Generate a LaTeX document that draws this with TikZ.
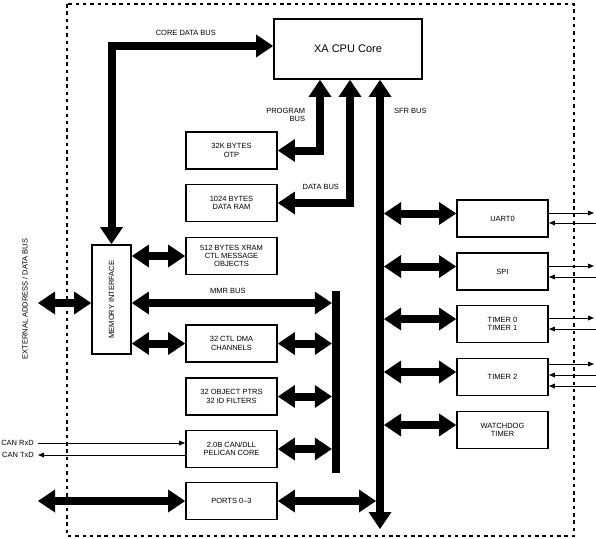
\documentclass[tikz,border=0pt]{standalone}
\usepackage{fontspec}
\setmainfont{Liberation Sans}
\usetikzlibrary{arrows.meta}

\newcommand{\lblfont}{\fontsize{7.5}{8.3}\selectfont}

\begin{document}
\begin{tikzpicture}[
    x=1pt, y=-1pt,
    block/.style={%
      draw,
      rectangle,
      line width=1.8pt,
      minimum width=91pt,
      minimum height=37pt,
      inner sep=0pt,
      align=center,
      font=\lblfont,
    },
    busTip/.tip={Triangle[length=17pt,width=23pt,line width=0pt]},
    bus/.style={line width=8pt, line join=miter, {busTip}-{busTip}},
    sig/.style={line width=0.9pt, -{Triangle[length=6pt,width=5pt,line width=0pt]}},
    lbl/.style={font=\lblfont, inner sep=1pt},
  ]
    \useasboundingbox (0,0) rectangle (596,538);
    \draw [line width=1.2pt, dash pattern=on 3.5pt off 3.8pt] (67,4) rectangle (574,536);

    \node [block, minimum width=148pt, minimum height=60pt, font=\fontsize{11}{13}\selectfont] (cpuCore) at (348,49) {XA CPU Core};
    \path (cpuCore) ++(-116.5,101.5) node [block] (otp) {32K BYTES\\OTP};
    \path (cpuCore) ++(-116.5,154) node [block] (dataRam) {1024 BYTES\\DATA RAM};
    \path (cpuCore) ++(-116.5,207) node [block] (xram) {512 BYTES XRAM\\CTL MESSAGE\\OBJECTS};
    \path (cpuCore) ++(-236.5,250.5) node [block, minimum width=39pt, minimum height=109pt] (memIf) {\rotatebox{90}{MEMORY INTERFACE}};
    \path (cpuCore) ++(-116.5,294.5) node [block] (dma) {32 CTL DMA\\CHANNELS};
    \path (cpuCore) ++(-116.5,347.5) node [block] (objPtrs) {32 OBJECT PTRS\\32 ID FILTERS};
    \path (cpuCore) ++(-116.5,400) node [block] (canCore) {2.0B CAN/DLL\\PELICAN CORE};
    \path (cpuCore) ++(-116.5,452) node [block] (ports) {PORTS 0--3};
    \path (cpuCore) ++(154.5,169.5) node [block] (uart) {UART0};
    \path (cpuCore) ++(154.5,222.5) node [block] (spi) {SPI};
    \path (cpuCore) ++(154.5,275) node [block] (timer) {TIMER 0\\TIMER 1};
    \path (cpuCore) ++(154.5,328) node [block] (timerTwo) {TIMER 2};
    \path (cpuCore) ++(154.5,381) node [block] (watchdog) {WATCHDOG\\TIMER};
    \path (cpuCore) ++(-12,333) node [fill, minimum width=8pt, minimum height=182pt, inner sep=0pt] (mmrBus) {};

    \node [lbl, rotate=90] (extLabel) at (25,299) {EXTERNAL ADDRESS / DATA BUS};
    \node [lbl, anchor=east] (canRx) at (35,443) {CAN RxD};
    \node [lbl, anchor=east] (canTx) at (35,455) {CAN TxD};

    \coordinate (sfrEnd) at (380,529);
    \coordinate (sfrRight) at (384,0);
    \coordinate (sfrLeft) at (376,0);
    \coordinate (extIO) at (38,303);
    \coordinate (portsIO) at (38,501);
    \coordinate (edgeOut) at (594,0);
    \coordinate (edgeIn) at (596,0);

    % buses to the core
    \draw [bus] (memIf.north) |- ([yshift=3pt]cpuCore.west) node [lbl, above=5pt, pos=0.73] {CORE DATA BUS};
    \draw [bus] ([xshift=-28pt]cpuCore.south) |- (otp.east) node [lbl, left=10pt, pos=0.25, align=right] {PROGRAM\\BUS};
    \draw [bus] ([xshift=2pt]cpuCore.south) |- (dataRam.east) node [lbl, anchor=south east, xshift=-6pt, yshift=8pt, pos=0.5] {DATA BUS};
    \draw [bus] ([xshift=32pt]cpuCore.south) -- (sfrEnd) node [lbl, right=9pt, pos=0.07] {SFR BUS};

    % memory interface and MMR bus
    \draw [bus] (extIO) -- (extIO -| memIf.west);
    \draw [bus] (memIf.east |- xram.west) -- (xram.west);
    \draw [bus] (extIO -| memIf.east) -- (extIO -| mmrBus.west) node [lbl, above=4pt, pos=0.48] {MMR BUS};
    \draw [bus] (memIf.east |- dma.west) -- (dma.west);
    \draw [bus] (dma.east) -- (dma.east -| mmrBus.west);
    \draw [bus] (objPtrs.east) -- (objPtrs.east -| mmrBus.west);
    \draw [bus] (canCore.east) -- (canCore.east -| mmrBus.west);
    \draw [bus] (portsIO) -- (ports.west);
    \draw [bus] (ports.east) -- (ports.east -| sfrLeft);

    % SFR peripherals
    \draw [bus] ([yshift=5pt]uart.west -| sfrRight) -- ([yshift=5pt]uart.west);
    \draw [bus] ([yshift=5pt]spi.west -| sfrRight) -- ([yshift=5pt]spi.west);
    \draw [bus] ([yshift=5pt]timer.west -| sfrRight) -- ([yshift=5pt]timer.west);
    \draw [bus] ([yshift=5pt]timerTwo.west -| sfrRight) -- ([yshift=5pt]timerTwo.west);
    \draw [bus] ([yshift=5pt]watchdog.west -| sfrRight) -- ([yshift=5pt]watchdog.west);

    % CAN pins
    \draw [sig] ([xshift=3pt]canRx.east) -- (canRx.east -| canCore.west);
    \draw [sig] (canCore.west |- canTx.east) -- ([xshift=3pt]canTx.east);

    % port pins
    \draw [sig] ([yshift=5.5pt]uart.east) -- ([yshift=5.5pt]uart.east -| edgeOut);
    \draw [sig] ([yshift=-4.5pt]uart.east -| edgeIn) -- ([yshift=-4.5pt]uart.east);
    \draw [sig] ([yshift=5.5pt]spi.east) -- ([yshift=5.5pt]spi.east -| edgeOut);
    \draw [sig] ([yshift=-5.5pt]spi.east -| edgeIn) -- ([yshift=-5.5pt]spi.east);
    \draw [sig] ([yshift=6pt]timer.east) -- ([yshift=6pt]timer.east -| edgeOut);
    \draw [sig] ([yshift=-5pt]timer.east -| edgeIn) -- ([yshift=-5pt]timer.east);
    \draw [sig] ([yshift=13pt]timerTwo.east) -- ([yshift=13pt]timerTwo.east -| edgeOut);
    \draw [sig] ([yshift=2pt]timerTwo.east -| edgeIn) -- ([yshift=2pt]timerTwo.east);
    \draw [sig] ([yshift=-9pt]timerTwo.east -| edgeIn) -- ([yshift=-9pt]timerTwo.east);
\end{tikzpicture}
\end{document}
